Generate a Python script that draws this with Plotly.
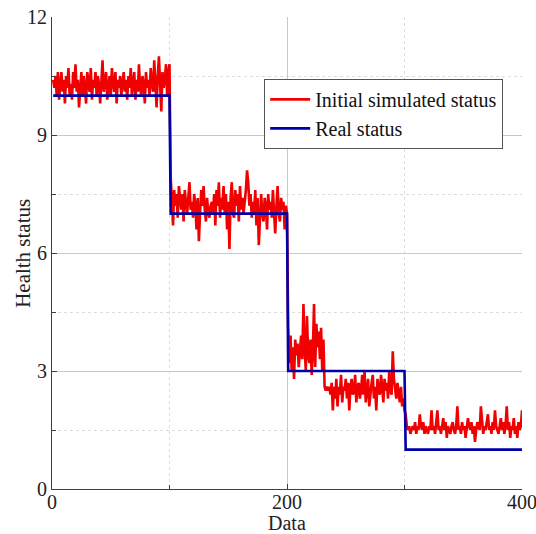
import plotly.graph_objects as go

seg1 = [10.4,10.2,10.5,10.0,10.6,9.9,10.3,10.6,10.1,10.4,
9.8,10.5,10.2,10.7,10.0,10.3,9.9,10.6,10.2,10.8,
10.1,10.4,9.7,10.3,10.6,10.0,10.5,10.2,9.8,10.6,
10.3,10.1,10.7,9.9,10.4,10.2,10.6,10.0,10.5,10.3,
9.8,10.4,10.9,10.1,10.3,10.6,9.9,10.2,10.5,10.0,
10.7,10.3,10.1,10.6,9.8,10.4,10.2,10.5,10.0,10.3,
10.6,10.1,10.4,9.9,10.5,10.2,10.7,10.0,10.3,10.6,
9.9,10.4,10.1,10.8,10.2,10.0,10.5,10.3,9.8,10.6,
10.2,10.4,10.0,10.7,10.3,10.1,10.9,10.2,9.7,10.5,
11.0,10.3,9.6,10.6,10.2,10.4,10.8,10.0,10.6,10.8]

seg2 = [7.9,7.4,6.7,7.6,7.2,7.5,6.9,7.7,7.3,7.1,
7.5,6.8,7.6,7.2,7.0,7.4,7.8,7.1,7.3,6.9,
7.5,7.2,6.6,7.4,6.3,7.0,7.6,7.2,7.7,7.1,
6.8,7.4,7.0,6.9,7.2,7.3,7.0,7.5,6.7,7.6,
7.2,7.8,6.9,7.4,7.1,7.7,7.0,7.5,6.6,7.3,
6.1,7.4,7.8,7.0,6.9,7.6,7.2,7.5,6.8,7.7,
7.1,7.4,7.0,7.3,7.6,8.1,7.8,7.2,7.5,6.9,
7.3,7.0,7.6,6.7,7.4,6.2,7.1,7.5,7.0,6.8,
7.4,7.2,6.6,7.5,7.1,7.3,6.9,7.6,7.0,6.5,
7.2,7.7,7.0,6.8,7.4,7.1,7.3,6.6,7.2,7.0]

seg3 = [4.1,3.2,3.9,3.0,3.6,2.8,3.8,3.4,3.7,3.1,
3.5,3.9,3.3,4.7,3.6,3.0,4.4,3.4,3.2,3.8,
2.9,3.5,4.7,3.1,4.2,3.6,4.0,3.3,4.1,3.0,
3.8,2.6,2.5,2.6,2.5,2.6,2.4,2.7,2.0,2.6,
2.3,2.8,2.1,2.6,2.4,2.9,2.2,2.6,2.5,2.8,
2.3,2.7,2.0,2.6,2.8,2.4,2.5,2.9,2.2,2.6,
2.7,2.3,2.5,2.9,2.4,3.0,2.2,2.6,2.8,2.1,
2.5,2.7,2.9,2.3,2.6,2.0,2.8,2.5,2.4,2.9,
2.6,2.2,2.8,2.5,2.7,2.3,3.0,2.5,2.4,3.5,
2.8,2.6,2.3,2.7,2.4,2.2,2.6,2.1,2.3,2.0]

seg4 = [1.9,1.6,1.5,1.6,1.4,1.5,1.6,1.5,1.7,1.4,
1.6,1.5,1.9,1.6,1.5,1.7,1.4,1.6,1.5,1.4,
1.6,1.5,2.0,1.5,1.6,1.4,1.7,2.0,1.5,1.6,
1.4,1.6,1.8,1.5,1.7,1.3,1.6,1.5,1.4,1.6,
1.7,1.5,1.4,1.6,2.1,1.5,1.6,1.4,1.7,1.5,
1.6,1.3,1.5,1.8,1.6,1.5,1.7,1.4,1.6,1.2,
1.5,1.7,1.6,1.5,2.1,1.8,1.4,1.6,1.5,1.7,
1.9,1.5,1.6,1.4,1.7,1.5,2.0,1.6,1.5,1.4,
1.6,1.8,1.5,1.7,1.4,1.6,2.1,1.5,1.7,1.3,
1.6,1.5,1.8,1.4,1.6,1.3,1.7,1.5,1.6,2.0]

real_levels = [10, 7, 3, 1]
seg_len = 100

simulated = seg1 + seg2 + seg3 + seg4
real = [lv for lv in real_levels for _ in range(seg_len)]
x = list(range(1, len(simulated) + 1))

FONT = "Liberation Serif"

fig = go.Figure()
fig.add_trace(go.Scatter(x=x, y=simulated, mode="lines", name="Initial simulated status",
                         line=dict(color="#f00000", width=2.6)))
fig.add_trace(go.Scatter(x=x, y=real, mode="lines", name="Real status",
                         line=dict(color="#0000a8", width=2.6)))

axis_common = dict(
    showline=True, linecolor="#404040", linewidth=1.2, mirror=False,
    ticks="inside", ticklen=5, tickcolor="#404040",
    showgrid=True, gridcolor="#c8c8c8", gridwidth=1,
    zeroline=False, automargin=False, ticklabeloverflow="allow",
    tickfont=dict(family=FONT, size=20, color="#222"),
)

fig.update_xaxes(range=[0, 400], tickvals=[0, 200, 400], ticklabelstandoff=-5,
                 minor=dict(tickvals=[100, 300], ticks="inside", ticklen=4, tickcolor="#404040",
                            showgrid=True, gridcolor="#dddddd", griddash="dot", gridwidth=1),
                 **axis_common)
fig.update_yaxes(range=[0, 12], tickvals=[0, 3, 6, 9, 12],
                 minor=dict(tickvals=[1.5, 4.5, 7.5, 10.5], ticks="inside", ticklen=4, tickcolor="#404040",
                            showgrid=True, gridcolor="#dddddd", griddash="dot", gridwidth=1),
                 **axis_common)

fig.add_annotation(text="Data", xref="paper", yref="paper", x=0.5, y=-0.072,
                   xanchor="center", yanchor="middle", showarrow=False,
                   font=dict(family=FONT, size=20, color="#222"))
fig.add_annotation(text="Health status", xref="paper", yref="paper", x=-0.062, y=0.5,
                   xanchor="center", yanchor="middle", textangle=-90, showarrow=False,
                   font=dict(family=FONT, size=21, color="#222"))

fig.update_layout(
    width=536, height=534,
    margin=dict(l=52, r=14, t=17, b=45),
    paper_bgcolor="white", plot_bgcolor="white",
    legend=dict(x=0.96, y=0.869, xanchor="right", yanchor="top",
                bgcolor="white", bordercolor="#555", borderwidth=1,
                font=dict(family=FONT, size=20, color="#111"),
                tracegroupgap=0, itemwidth=40),
    showlegend=True,
)

fig.write_html("out.html")
